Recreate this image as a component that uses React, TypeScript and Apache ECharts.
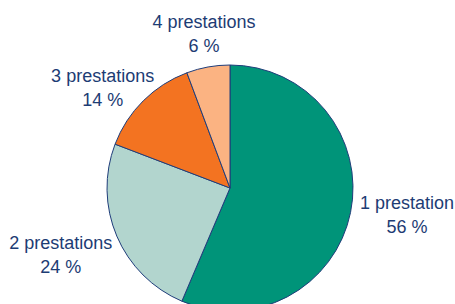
import React, { useEffect, useRef } from "react";
import * as echarts from "echarts";

const categories = ["1 prestation", "2 prestations", "3 prestations", "4 prestations"];
const values = [56.4, 24.4, 13.5, 5.7];
const colors = ["#009479", "#b2d5ce", "#f37321", "#fbb382"];
const labelDistances = [179, 182, 162, 156];
const labelAngleOffsets = [2.8, -1.4, 7, -0.7];

export default function App() {
  const ref = useRef<HTMLDivElement>(null);
  useEffect(() => {
    document.body.style.margin = "0";
    const chart = echarts.init(ref.current!, undefined, { renderer: "svg" });
    const cx = 230;
    const cy = 188;
    const total = values.reduce((a, b) => a + b, 0);
    const mids: number[] = [];
    let acc = 0;
    values.forEach((v, i) => {
      const midFrac = (acc + v / 2) / total;
      mids.push(Math.PI / 2 - midFrac * 2 * Math.PI + (labelAngleOffsets[i] * Math.PI) / 180);
      acc += v;
    });
    chart.setOption({
      animation: false,
      backgroundColor: "#ffffff",
      series: [
        {
          type: "pie",
          center: [cx, cy],
          radius: 123,
          startAngle: 90,
          clockwise: true,
          data: categories.map((c, i) => ({
            name: c,
            value: values[i],
            itemStyle: { color: colors[i] },
          })),
          itemStyle: { borderColor: "#1f3d7a", borderWidth: 1 },
          label: {
            show: true,
            position: "outside",
            formatter: (p: any) => `${p.name}\n${Math.round(p.value)} %`,
            color: "#1d3c74",
            fontFamily: "Liberation Sans, Arial, sans-serif",
            fontSize: 18,
            lineHeight: 24,
            align: "center",
            overflow: "none",
          },
          labelLine: { show: false },
          labelLayout: (params: any) => {
            const i = params.dataIndex;
            const a = mids[i];
            const d = labelDistances[i];
            return {
              x: cx + d * Math.cos(a),
              y: cy - d * Math.sin(a),
              align: "center",
              verticalAlign: "middle",
            };
          },
          emphasis: { disabled: true },
        },
      ],
    });
    return () => chart.dispose();
  }, []);
  return <div ref={ref} style={{ width: 455, height: 304 }} />;
}
